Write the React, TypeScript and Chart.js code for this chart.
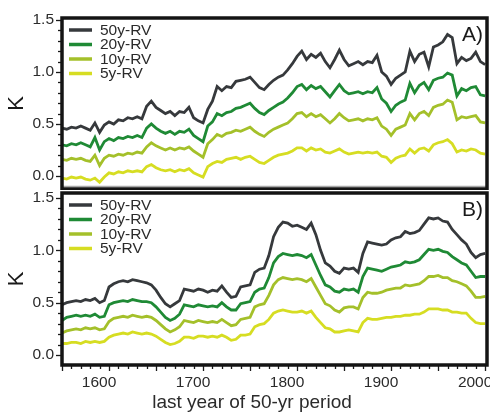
import React, { useEffect, useRef } from 'react';
import { Chart, registerables } from 'chart.js';

Chart.register(...registerables);

const FONT = "'Liberation Sans', Arial, Helvetica, sans-serif";

const years = [
  1550, 1555, 1560, 1565, 1570, 1575, 1580, 1585, 1590, 1595,
  1600, 1605, 1610, 1615, 1620, 1625, 1630, 1635, 1640, 1645,
  1650, 1655, 1660, 1665, 1670, 1675, 1680, 1685, 1690, 1695,
  1700, 1705, 1710, 1715, 1720, 1725, 1730, 1735, 1740, 1745,
  1750, 1755, 1760, 1765, 1770, 1775, 1780, 1785, 1790, 1795,
  1800, 1805, 1810, 1815, 1820, 1825, 1830, 1835, 1840, 1845,
  1850, 1855, 1860, 1865, 1870, 1875, 1880, 1885, 1890, 1895,
  1900, 1905, 1910, 1915, 1920, 1925, 1930, 1935, 1940, 1945,
  1950, 1955, 1960, 1965, 1970, 1975, 1980, 1985, 1990, 1995,
  2000,
];

const seriesLabels = ['50y-RV', '20y-RV', '10y-RV', '5y-RV'];
const seriesColors = ['#36393c', '#1f8a35', '#a4c02a', '#d6dd22'];
const panelLabels = ['A)', 'B)'];
const xTickLabels = [1600, 1700, 1800, 1900, 2000];
const yTickLabels = [0.0, 0.5, 1.0, 1.5];
const xTitle = 'last year of 50-yr period';
const yTitle = 'K';

// Panel A
const a50 = [
  0.46, 0.45, 0.47, 0.46, 0.48, 0.46, 0.44, 0.51, 0.42, 0.49,
  0.52, 0.50, 0.54, 0.53, 0.56, 0.55, 0.57, 0.55, 0.67, 0.72,
  0.66, 0.63, 0.60, 0.62, 0.58, 0.62, 0.61, 0.66, 0.56, 0.53,
  0.51, 0.64, 0.72, 0.86, 0.82, 0.86, 0.85, 0.91, 0.92, 0.93,
  0.95, 0.90, 0.85, 0.83, 0.88, 0.92, 0.95, 0.97, 1.02, 1.08,
  1.15, 1.20, 1.12, 1.17, 1.14, 1.18, 1.10, 1.04, 1.12, 1.21,
  1.12, 1.06, 1.08, 1.10, 1.07, 1.10, 1.09, 1.16, 1.00, 0.96,
  0.88, 0.94, 0.97, 1.00, 1.20, 1.10, 1.17, 1.19, 1.05, 1.24,
  1.26, 1.29, 1.36, 1.33, 1.08, 1.14, 1.11, 1.13, 1.19, 1.10,
  1.07,
];
const a20 = [
  0.30, 0.29, 0.31, 0.30, 0.32, 0.30, 0.28, 0.37, 0.25, 0.33,
  0.36, 0.34, 0.37, 0.36, 0.38, 0.37, 0.39, 0.37, 0.46, 0.50,
  0.46, 0.43, 0.41, 0.43, 0.40, 0.43, 0.42, 0.45, 0.39, 0.36,
  0.33, 0.48, 0.52, 0.60, 0.58, 0.61, 0.62, 0.65, 0.66, 0.68,
  0.70, 0.65, 0.61, 0.59, 0.63, 0.66, 0.69, 0.71, 0.75, 0.80,
  0.86, 0.88, 0.83, 0.87, 0.84, 0.86, 0.81, 0.76, 0.82, 0.88,
  0.82, 0.79, 0.80, 0.81, 0.79, 0.81, 0.80, 0.85, 0.74, 0.70,
  0.62, 0.68, 0.71, 0.73, 0.89, 0.80, 0.87, 0.90, 0.83, 0.92,
  0.94, 0.95, 0.99, 0.97, 0.77, 0.84, 0.82, 0.85, 0.86, 0.78,
  0.77,
];
const a10 = [
  0.16, 0.15, 0.17, 0.16, 0.17, 0.15, 0.14, 0.20, 0.10, 0.17,
  0.20, 0.19, 0.21, 0.20, 0.22, 0.21, 0.23, 0.22, 0.28, 0.32,
  0.29, 0.27, 0.25, 0.27, 0.25, 0.27, 0.26, 0.28, 0.24, 0.21,
  0.18, 0.31, 0.35, 0.40, 0.38, 0.41, 0.42, 0.44, 0.43, 0.45,
  0.47, 0.43, 0.40, 0.38, 0.42, 0.45, 0.47, 0.49, 0.51, 0.55,
  0.60, 0.61, 0.57, 0.60, 0.57, 0.59, 0.55, 0.51, 0.55, 0.60,
  0.56, 0.53, 0.54, 0.55, 0.53, 0.55, 0.54, 0.56, 0.48, 0.45,
  0.39, 0.45, 0.47, 0.49, 0.60, 0.54, 0.60, 0.62, 0.58, 0.66,
  0.68, 0.69, 0.73, 0.71, 0.54, 0.57, 0.56, 0.57, 0.58, 0.52,
  0.51,
];
const a5 = [
  -0.02, -0.03, -0.01, -0.02, -0.01, -0.03, -0.04, -0.02, -0.06, -0.01,
  0.03, 0.02, 0.04, 0.03, 0.05, 0.04, 0.05, 0.04, 0.09, 0.11,
  0.08, 0.06, 0.05, 0.06, 0.04, 0.06, 0.05, 0.07, 0.03, 0.01,
  -0.01, 0.09, 0.12, 0.14, 0.13, 0.16, 0.17, 0.18, 0.16, 0.18,
  0.19, 0.16, 0.13, 0.12, 0.15, 0.18, 0.20, 0.21, 0.22, 0.24,
  0.27, 0.27, 0.24, 0.27, 0.25, 0.26, 0.23, 0.22, 0.24, 0.26,
  0.23, 0.21, 0.22, 0.23, 0.22, 0.23, 0.22, 0.23, 0.19, 0.18,
  0.13, 0.17, 0.19, 0.20, 0.26, 0.22, 0.26, 0.27, 0.24, 0.30,
  0.32, 0.33, 0.35, 0.31, 0.23, 0.25, 0.24, 0.26, 0.25, 0.22,
  0.21,
];

// Panel B
const b50 = [
  0.48, 0.50, 0.51, 0.52, 0.51, 0.53, 0.52, 0.54, 0.50, 0.52,
  0.65, 0.68, 0.70, 0.71, 0.70, 0.72, 0.71, 0.70, 0.69, 0.67,
  0.62, 0.55, 0.49, 0.46, 0.49, 0.52, 0.63, 0.62, 0.61, 0.63,
  0.62, 0.60, 0.62, 0.61, 0.66, 0.60, 0.55, 0.56, 0.65, 0.66,
  0.67, 0.79, 0.82, 0.83, 0.95, 1.13, 1.22, 1.27, 1.26, 1.23,
  1.24, 1.22, 1.20, 1.26, 1.15, 1.00, 0.88, 0.85, 0.80, 0.78,
  0.83, 0.82, 0.83, 0.79, 0.97, 1.08, 1.07, 1.06, 1.05, 1.06,
  1.10, 1.12, 1.13, 1.18, 1.16, 1.17, 1.19, 1.25, 1.31, 1.30,
  1.31, 1.28, 1.27, 1.20, 1.15, 1.10, 1.06, 0.98, 0.93, 0.96,
  0.97,
];
const b20 = [
  0.33, 0.36, 0.37, 0.38, 0.37, 0.38, 0.37, 0.39, 0.36, 0.37,
  0.48, 0.50, 0.51, 0.52, 0.51, 0.53, 0.52, 0.51, 0.51, 0.50,
  0.46, 0.41, 0.36, 0.33, 0.35, 0.39, 0.48, 0.47, 0.46, 0.48,
  0.47, 0.46, 0.47, 0.46, 0.50, 0.46, 0.43, 0.43, 0.49, 0.50,
  0.51, 0.60, 0.63, 0.64, 0.74, 0.88, 0.94, 0.97, 0.96, 0.95,
  0.96, 0.95, 0.93, 0.96, 0.86, 0.76, 0.67, 0.65, 0.61, 0.60,
  0.63, 0.62, 0.63, 0.60, 0.75, 0.83, 0.82, 0.81, 0.80, 0.82,
  0.84, 0.85, 0.86, 0.89, 0.88, 0.89, 0.91, 0.96, 1.01, 1.00,
  1.01, 0.99, 0.98, 0.94, 0.91, 0.88, 0.86, 0.80, 0.74, 0.75,
  0.75,
];
const b10 = [
  0.21, 0.23, 0.24, 0.25, 0.24, 0.26, 0.25, 0.26, 0.24, 0.25,
  0.32, 0.35, 0.36, 0.37, 0.36, 0.38, 0.37, 0.36, 0.37, 0.36,
  0.33, 0.29, 0.25, 0.22, 0.24, 0.27, 0.33, 0.32, 0.31, 0.33,
  0.32, 0.31, 0.32, 0.31, 0.34, 0.31, 0.28, 0.29, 0.34, 0.35,
  0.36, 0.46, 0.48, 0.49, 0.57, 0.67, 0.72, 0.74, 0.73, 0.72,
  0.73, 0.72, 0.70, 0.73, 0.65, 0.57, 0.49, 0.47, 0.43, 0.41,
  0.45, 0.46, 0.46, 0.44, 0.55, 0.60, 0.59, 0.59, 0.60, 0.62,
  0.63, 0.64, 0.64, 0.67, 0.66, 0.67, 0.68, 0.71, 0.75, 0.75,
  0.76, 0.74, 0.74, 0.71, 0.70, 0.68, 0.66, 0.61, 0.55, 0.55,
  0.56,
];
const b5 = [
  0.11, 0.11, 0.12, 0.12, 0.11, 0.13, 0.12, 0.13, 0.12, 0.13,
  0.17, 0.19, 0.20, 0.21, 0.20, 0.22, 0.21, 0.20, 0.21, 0.20,
  0.18, 0.15, 0.12, 0.10, 0.11, 0.13, 0.17, 0.17, 0.16, 0.18,
  0.18, 0.17, 0.18, 0.17, 0.19, 0.17, 0.14, 0.15, 0.19, 0.19,
  0.20, 0.27, 0.29, 0.30, 0.34, 0.40, 0.42, 0.43, 0.42, 0.41,
  0.41, 0.42, 0.40, 0.42, 0.36, 0.31, 0.26, 0.25, 0.22, 0.22,
  0.23, 0.24, 0.23, 0.22, 0.31, 0.35, 0.34, 0.34, 0.35, 0.36,
  0.36, 0.37, 0.37, 0.38, 0.38, 0.39, 0.39, 0.41, 0.44, 0.44,
  0.44, 0.43, 0.43, 0.41, 0.41, 0.40, 0.40, 0.35, 0.31, 0.30,
  0.30,
];

const panelASeries = [a50, a20, a10, a5];
const panelBSeries = [b50, b20, b10, b5];

function isMultiple(v: number, step: number) {
  const r = v / step;
  return Math.abs(r - Math.round(r)) < 1e-6;
}

function decoPlugin(panelLabel: string, showX: boolean, grayBottom: boolean) {
  return {
    id: 'deco',
    afterDraw(chart: any) {
      const { ctx, chartArea } = chart;
      const { left, right, top, bottom } = chartArea;
      const xs = chart.scales.x;
      const ys = chart.scales.y;
      ctx.save();
      // y ticks (outside, left)
      ctx.strokeStyle = '#1a1a1a';
      ctx.lineWidth = 1.3;
      ys.ticks.forEach((t: any) => {
        const v = t.value;
        if (!isMultiple(v, 0.1) || v < -1e-6 || v > 1.5 + 1e-6) return;
        const py = Math.round(ys.getPixelForValue(v)) + 0.5;
        const len = isMultiple(v, 0.5) ? 6 : 4;
        ctx.beginPath();
        ctx.moveTo(left - len, py);
        ctx.lineTo(left, py);
        ctx.stroke();
      });
      if (showX) {
        xs.ticks.forEach((t: any) => {
          const v = t.value;
          if (!isMultiple(v, 10)) return;
          const px = Math.round(xs.getPixelForValue(v)) + 0.5;
          const len = isMultiple(v, 50) ? 6 : 4;
          ctx.beginPath();
          ctx.moveTo(px, bottom);
          ctx.lineTo(px, bottom + len);
          ctx.stroke();
        });
        ctx.fillStyle = '#2b2b2b';
        ctx.font = `19px ${FONT}`;
        ctx.textAlign = 'center';
        ctx.textBaseline = 'middle';
        ctx.fillText(xTitle, 252, bottom + 38);
      }
      if (grayBottom) {
        ctx.strokeStyle = '#a8a8a8';
        ctx.lineWidth = 1.5;
        ctx.beginPath();
        ctx.moveTo(left, bottom - 2.5);
        ctx.lineTo(right, bottom - 2.5);
        ctx.stroke();
      }
      // frame
      ctx.strokeStyle = '#141414';
      ctx.lineWidth = 3.5;
      ctx.strokeRect(left, top, right - left, bottom - top);
      // legend
      chart.data.datasets.forEach((ds: any, i: number) => {
        const yy = top + 12 + i * 14.5;
        ctx.strokeStyle = ds.borderColor;
        ctx.lineWidth = 3.5;
        ctx.beginPath();
        ctx.moveTo(left + 7, yy);
        ctx.lineTo(left + 30, yy);
        ctx.stroke();
        ctx.fillStyle = '#2b2b2b';
        ctx.font = `15.5px ${FONT}`;
        ctx.textAlign = 'left';
        ctx.textBaseline = 'middle';
        ctx.fillText(ds.label, left + 38, yy + 0.5);
      });
      // panel label
      ctx.fillStyle = '#1a1a1a';
      ctx.font = `21px ${FONT}`;
      ctx.textAlign = 'right';
      ctx.textBaseline = 'middle';
      ctx.fillText(panelLabel, right - 4, top + 17);
      ctx.restore();
    },
  };
}

function buildConfig(series: number[][], panelIdx: number, showX: boolean, yMin: number, yMax: number, padding: any, xHeight: number): any {
  return {
    type: 'line',
    data: {
      datasets: series.map((arr, i) => ({
        label: seriesLabels[i],
        data: years.map((yr, j) => ({ x: yr, y: arr[j] })),
        borderColor: seriesColors[i],
        backgroundColor: seriesColors[i],
        borderWidth: 2.8,
        pointRadius: 0,
        tension: 0,
        fill: false,
      })),
    },
    options: {
      responsive: false,
      animation: false,
      layout: { padding },
      plugins: {
        legend: { display: false },
        tooltip: { enabled: false },
      },
      scales: {
        x: {
          type: 'linear',
          min: 1550,
          max: 2002,
          display: showX,
          grid: { display: false, drawTicks: false },
          border: { display: false },
          ticks: {
            stepSize: 10,
            includeBounds: false,
            autoSkip: false,
            maxRotation: 0,
            minRotation: 0,
            padding: 8,
            labelOffset: -10,
            color: '#2b2b2b',
            font: { size: 15.5, family: FONT },
            callback: (v: number) => (xTickLabels.some((l) => Math.abs(l - v) < 1e-6) ? String(Math.round(v)) : ''),
          },
          afterFit: (s: any) => {
            s.height = xHeight;
            s.paddingLeft = 0;
            s.paddingRight = 0;
          },
        },
        y: {
          type: 'linear',
          min: yMin,
          max: yMax,
          grid: { display: false, drawTicks: false },
          border: { display: false },
          title: {
            display: true,
            text: yTitle,
            color: '#1a1a1a',
            font: { size: 22, family: FONT },
            padding: { top: 4, bottom: 0 },
          },
          ticks: {
            stepSize: 0.1,
            includeBounds: false,
            autoSkip: false,
            padding: 8,
            color: '#2b2b2b',
            font: { size: 15.5, family: FONT },
            callback: (v: number) => {
              const m = yTickLabels.find((l) => Math.abs(l - v) < 1e-6);
              return m === undefined ? '' : m.toFixed(1);
            },
          },
          afterFit: (s: any) => {
            s.width = 62;
            s.paddingTop = 0;
            s.paddingBottom = 0;
          },
        },
      },
    },
    plugins: [decoPlugin(panelLabels[panelIdx], showX, !showX)],
  };
}

export default function App() {
  const topRef = useRef<HTMLCanvasElement | null>(null);
  const botRef = useRef<HTMLCanvasElement | null>(null);

  useEffect(() => {
    const c1 = new Chart(
      topRef.current as HTMLCanvasElement,
      buildConfig(panelASeries, 0, false, -0.125, 1.519, { left: 0, right: 3, top: 18, bottom: 1 }, 0)
    );
    const c2 = new Chart(
      botRef.current as HTMLCanvasElement,
      buildConfig(panelBSeries, 1, true, -0.0955, 1.548, { left: 0, right: 3, top: 3, bottom: 0 }, 47)
    );
    return () => {
      c1.destroy();
      c2.destroy();
    };
  }, []);

  return (
    <div style={{ position: 'absolute', left: 0, top: 0, width: 490, height: 412, background: '#fff' }}>
      <canvas ref={topRef} width={490} height={190} style={{ position: 'absolute', left: 0, top: 0, width: 490, height: 190 }} />
      <canvas ref={botRef} width={490} height={222} style={{ position: 'absolute', left: 0, top: 190, width: 490, height: 222 }} />
    </div>
  );
}
